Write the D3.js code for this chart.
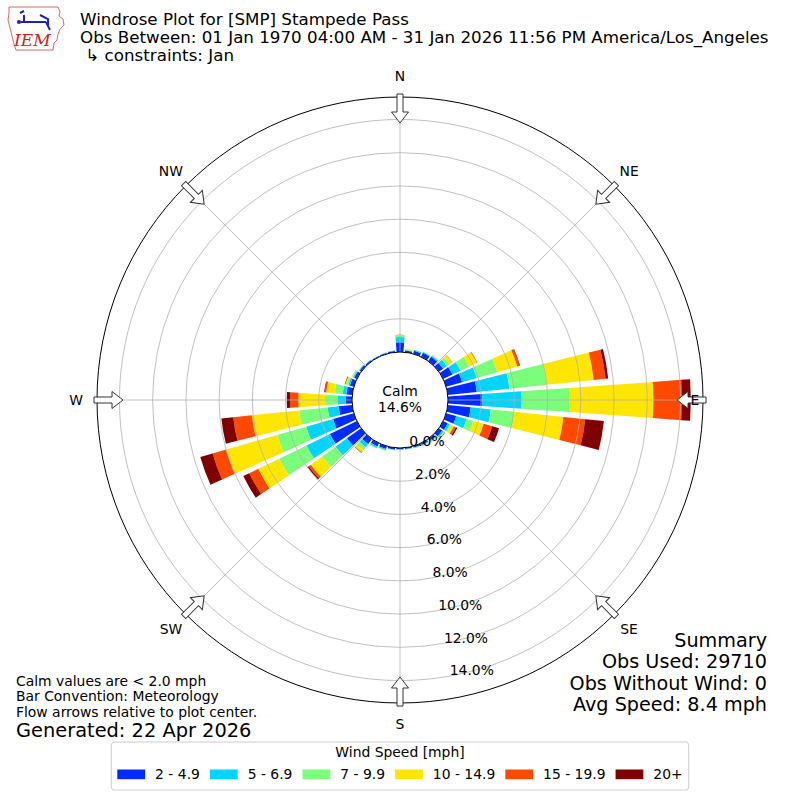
<!DOCTYPE html>
<html>
<head>
<meta charset="utf-8">
<script src="https://cdn.jsdelivr.net/npm/d3@7"></script>
<style>
  body { margin: 0; background: #fff; }
  svg { font-family: "DejaVu Sans", sans-serif; }
</style>
</head>
<body>
<div id="chart"></div>
<script>
// wind direction bins (deg, meteorological) and % of obs in each speed bin
const directions = [0, 10, 20, 30, 40, 50, 60, 70, 80, 90, 100, 110, 120, 130, 140, 150, 160, 170,
                    180, 190, 200, 210, 220, 230, 240, 250, 260, 270, 280, 290, 300, 310, 320, 330, 340, 350];
const spd2to5   = [0.58, 0.10, 0.20, 0.28, 0.32, 0.32, 0.62, 1.00, 1.76, 2.06, 1.39, 0.63, 0.30, 0.25, 0.15, 0.12, 0.10, 0.08,
                   0.08, 0.10, 0.18, 0.22, 0.38, 1.05, 1.80, 1.30, 0.83, 0.37, 0.36, 0.25, 0.18, 0.12, 0.08, 0.06, 0.06, 0.08];
const spd5to7   = [0.32, 0.04, 0.05, 0.05, 0.08, 0.28, 0.54, 0.92, 1.97, 2.38, 1.22, 0.65, 0.15, 0.10, 0.07, 0.05, 0.03, 0.02,
                   0.02, 0.03, 0.07, 0.10, 0.24, 0.85, 1.57, 1.68, 0.66, 0.51, 0.22, 0.10, 0.07, 0.04, 0.02, 0.02, 0.02, 0.02];
const spd7to10  = [0.07, 0.03, 0.01, 0.02, 0.04, 0.18, 0.58, 1.28, 2.25, 2.87, 1.43, 0.42, 0.10, 0.05, 0.03, 0.02, 0.01, 0.01,
                   0.01, 0.01, 0.03, 0.04, 0.23, 1.00, 1.83, 1.82, 1.73, 0.75, 0.50, 0.10, 0.04, 0.02, 0.01, 0.00, 0.00, 0.00];
const spd10to15 = [0.05, 0.04, 0.00, 0.00, 0.02, 0.20, 0.51, 1.25, 2.85, 5.06, 2.96, 0.65, 0.17, 0.03, 0.02, 0.01, 0.01, 0.00,
                   0.00, 0.00, 0.01, 0.02, 0.15, 0.85, 1.40, 3.20, 2.86, 1.60, 0.49, 0.07, 0.03, 0.02, 0.00, 0.00, 0.00, 0.00];
const spd15to20 = [0.01, 0.00, 0.00, 0.00, 0.00, 0.02, 0.02, 0.15, 0.72, 1.71, 1.32, 0.53, 0.13, 0.02, 0.01, 0.00, 0.00, 0.00,
                   0.00, 0.00, 0.00, 0.00, 0.03, 0.15, 0.60, 0.84, 1.12, 0.50, 0.09, 0.03, 0.01, 0.00, 0.00, 0.00, 0.00, 0.00];
const spd20up   = [0.01, 0.00, 0.00, 0.00, 0.00, 0.00, 0.01, 0.03, 0.16, 0.54, 1.13, 0.43, 0.10, 0.01, 0.00, 0.00, 0.00, 0.00,
                   0.00, 0.00, 0.00, 0.00, 0.01, 0.10, 0.40, 0.77, 0.72, 0.20, 0.04, 0.02, 0.00, 0.00, 0.00, 0.00, 0.00, 0.00];

const speedLabels = ["2 - 4.9", "5 - 6.9", "7 - 9.9", "10 - 14.9", "15 - 19.9", "20+"];
const speedColors = ["#002bff", "#00d4ff", "#7bff7b", "#ffe600", "#ff4800", "#800000"];
const compassLabels = ["N", "NE", "E", "SE", "S", "SW", "W", "NW"];
const compassAngles = [0, 45, 90, 135, 180, 225, 270, 315];
const calmPct = 14.6;

const titleLines = [
  "Windrose Plot for [SMP] Stampede Pass",
  "Obs Between: 01 Jan 1970 04:00 AM - 31 Jan 2026 11:56 PM America/Los_Angeles",
  "\u00a0\u21b3 constraints: Jan"
];
const noteLines = ["Calm values are < 2.0 mph", "Bar Convention: Meteorology", "Flow arrows relative to plot center."];
const generatedText = "Generated: 22 Apr 2026";
const summaryLines = ["Summary", "Obs Used: 29710", "Obs Without Wind: 0", "Avg Speed: 8.4 mph"];

// build the table for stacking
const series = [spd2to5, spd5to7, spd7to10, spd10to15, spd15to20, spd20up];
const keys = speedLabels;
const table = directions.map((d, i) => {
  const row = {dir: d};
  keys.forEach((k, j) => row[k] = series[j][i]);
  return row;
});
const stacked = d3.stack().keys(keys)(table);
const totals = table.map(row => d3.sum(keys, k => row[k]));

const W = 800, H = 800, cx = 400, cy = 400;
const calmR = 48, outerR = 303;

const svg = d3.select("#chart").append("svg")
  .attr("width", W).attr("height", H);

const r = d3.scaleLinear()
  .domain([0, d3.max(totals) * 1.05])
  .range([calmR, outerR]);
const ang = d3.scaleLinear().domain([0, 360]).range([0, 2 * Math.PI]);
const halfW = ang(8.2) / 2;

const plot = svg.append("g").attr("transform", `translate(${cx},${cy})`);

// bars
const arc = d3.arc()
  .innerRadius(d => r(d[0]))
  .outerRadius(d => r(d[1]))
  .startAngle(d => ang(d.data.dir) - halfW)
  .endAngle(d => ang(d.data.dir) + halfW);

plot.selectAll("g.layer")
  .data(stacked)
  .join("g")
  .attr("class", "layer")
  .attr("fill", (d, i) => speedColors[i])
  .selectAll("path")
  .data(d => d.filter(s => s[1] - s[0] > 0))
  .join("path")
  .attr("d", arc);

// grid circles and spokes on top of bars
const ticks = r.ticks(8);
plot.selectAll("circle.grid")
  .data(ticks.filter(t => t > 0))
  .join("circle")
  .attr("class", "grid")
  .attr("r", d => r(d))
  .attr("fill", "none")
  .attr("stroke", "#b0b0b0")
  .attr("stroke-width", 0.8);

plot.selectAll("line.spoke")
  .data(compassAngles)
  .join("line")
  .attr("class", "spoke")
  .attr("x1", 0).attr("y1", 0)
  .attr("x2", d => outerR * Math.sin(ang(d)))
  .attr("y2", d => -outerR * Math.cos(ang(d)))
  .attr("stroke", "#b0b0b0")
  .attr("stroke-width", 0.8);

plot.append("circle")
  .attr("r", outerR)
  .attr("fill", "none")
  .attr("stroke", "#000")
  .attr("stroke-width", 1);

// flow arrows
const arrowPts = [[-3, -306], [-3, -288], [-8.5, -288], [0, -277], [8.5, -288], [3, -288], [3, -306]];
plot.selectAll("path.arrow")
  .data(compassAngles)
  .join("path")
  .attr("class", "arrow")
  .attr("d", "M" + arrowPts.map(p => p.join(",")).join("L") + "Z")
  .attr("transform", d => `rotate(${d})`)
  .attr("fill", "#fff")
  .attr("stroke", "#333")
  .attr("stroke-width", 1);

// calm circle
plot.append("circle")
  .attr("r", calmR)
  .attr("fill", "#fff")
  .attr("stroke", "#000")
  .attr("stroke-width", 1);
plot.append("text").attr("x", 0).attr("y", -4).attr("text-anchor", "middle")
  .attr("font-size", 13.9).text("Calm");
plot.append("text").attr("x", 0).attr("y", 12).attr("text-anchor", "middle")
  .attr("font-size", 13.9).text(d3.format(".1f")(calmPct) + "%");

// radial tick labels
const labAng = ang(10);
plot.selectAll("text.rlab")
  .data(ticks)
  .join("text")
  .attr("class", "rlab")
  .attr("x", d => r(d) * Math.sin(labAng) + 1)
  .attr("y", d => r(d) * Math.cos(labAng) - 1)
  .attr("font-size", 13.9)
  .text(d => d3.format(".1f")(d) + "%");

// compass labels
plot.selectAll("text.compass")
  .data(compassLabels)
  .join("text")
  .attr("class", "compass")
  .attr("x", (d, i) => (d === "E" ? 295 : 324) * Math.sin(ang(compassAngles[i])))
  .attr("y", (d, i) => -324 * Math.cos(ang(compassAngles[i])))
  .attr("text-anchor", "middle")
  .attr("dominant-baseline", "central")
  .attr("font-size", 13.9)
  .text(d => d);

// title
svg.selectAll("text.title")
  .data(titleLines)
  .join("text")
  .attr("class", "title")
  .attr("x", 80)
  .attr("y", (d, i) => 25 + i * 18)
  .attr("font-size", 16.7)
  .text(d => d);

// logo
const logo = svg.append("g");
logo.append("path")
  .attr("d", "M9,7 L58,7 L60,12 L59,16 L63,19 L64,25 L60,29 L58,34 L57,40 L54,43 L53,50 L16,50 L14,44 L12,36 L10,28 L8,20 L9,13 Z")
  .attr("fill", "none").attr("stroke", "#d04040").attr("stroke-width", 0.8);
logo.append("path")
  .attr("d", "M21,22 L46,22 M24,22 L24,15 M20,13 L24,11 M40,15 L48,19 L48,25 M46,22 L50,30")
  .attr("fill", "none").attr("stroke", "#2020c0").attr("stroke-width", 2);
logo.append("circle").attr("cx", 19).attr("cy", 22).attr("r", 2).attr("fill", "#2020c0");
logo.append("text").attr("x", 14).attr("y", 46)
  .attr("font-family", "'DejaVu Serif', 'Liberation Serif', serif")
  .attr("font-style", "italic").attr("font-size", 17)
  .attr("fill", "#d02020").text("IEM");

// notes bottom-left
svg.selectAll("text.note")
  .data(noteLines)
  .join("text")
  .attr("class", "note")
  .attr("x", 16)
  .attr("y", (d, i) => 685.5 + i * 15.5)
  .attr("font-size", 13.9)
  .text(d => d);
svg.append("text").attr("x", 16).attr("y", 736.5).attr("font-size", 19.4).text(generatedText);

// summary bottom-right
svg.selectAll("text.summary")
  .data(summaryLines)
  .join("text")
  .attr("class", "summary")
  .attr("x", 767)
  .attr("y", (d, i) => 646.5 + i * 21.5)
  .attr("text-anchor", "end")
  .attr("font-size", 19.2)
  .text(d => d);

// legend
const leg = svg.append("g");
const legBox = leg.append("rect");
leg.append("text").attr("x", 400).attr("y", 757).attr("text-anchor", "middle")
  .attr("font-size", 13.9).text("Wind Speed [mph]");
const patchW = 27.8, patchH = 9.7, textPad = 10, colGap = 10;
const items = leg.selectAll("g.item").data(speedLabels).join("g").attr("class", "item");
items.append("rect").attr("width", patchW).attr("height", patchH)
  .attr("y", 769.5).attr("fill", (d, i) => speedColors[i]);
const labels = items.append("text").attr("y", 779.3).attr("font-size", 13.9).text(d => d);
const widths = labels.nodes().map(n => n.getComputedTextLength());
const itemW = widths.map(w => patchW + textPad + w);
const totalW = d3.sum(itemW) + colGap * (itemW.length - 1);
let xPos = 400 - totalW / 2;
const starts = itemW.map(w => { const s = xPos; xPos += w + colGap; return s; });
items.attr("transform", (d, i) => `translate(${starts[i]},0)`);
labels.attr("x", patchW + textPad);
legBox.attr("x", starts[0] - 6).attr("y", 742)
  .attr("width", totalW + 12).attr("height", 48)
  .attr("rx", 3)
  .attr("fill", "#fff").attr("stroke", "#cccccc").attr("stroke-width", 1);
</script>
</body>
</html>
